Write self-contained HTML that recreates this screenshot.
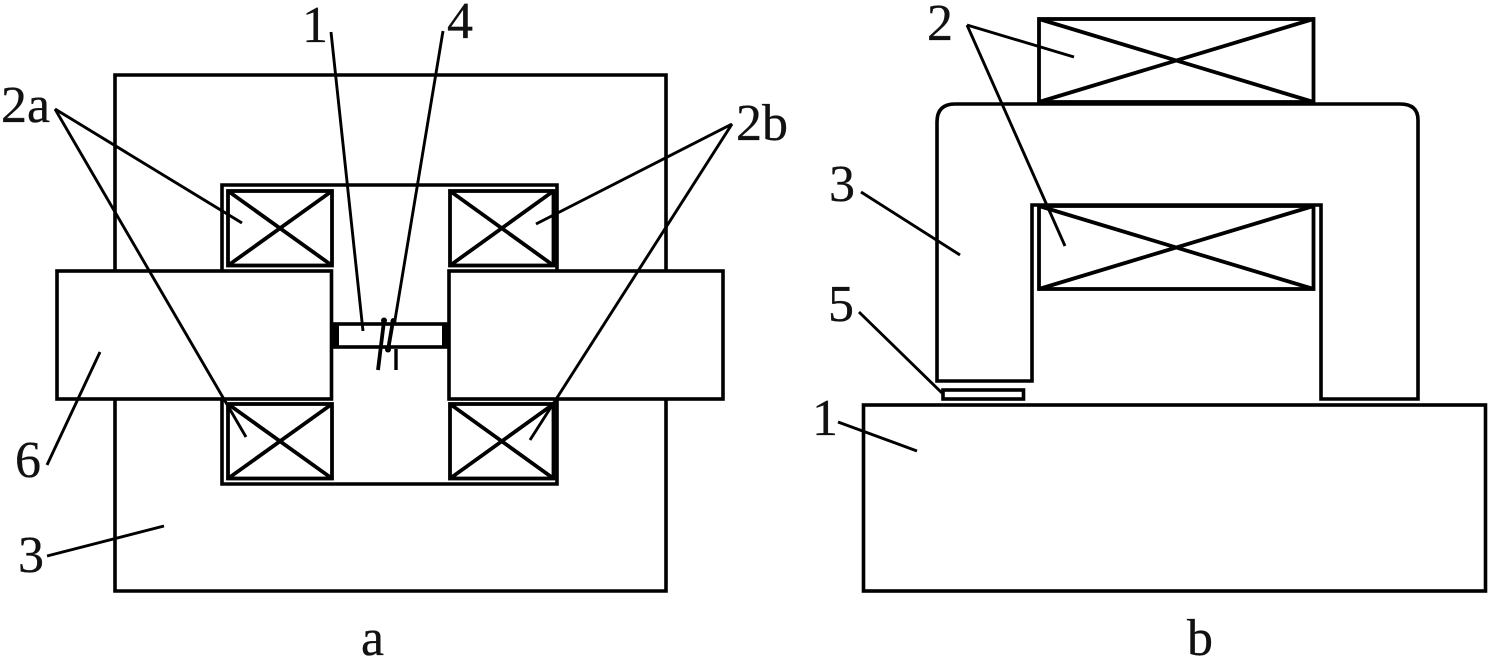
<!DOCTYPE html>
<html>
<head>
<meta charset="utf-8">
<style>
html,body{margin:0;padding:0;background:#fff;width:1488px;height:656px;overflow:hidden}
svg{display:block}
text{font-family:"Liberation Serif",serif;font-size:52px;fill:#111;stroke:#111;stroke-width:.3}
</style>
</head>
<body>
<svg width="1488" height="656" viewBox="0 0 1488 656" xmlns="http://www.w3.org/2000/svg">
<g fill="none" stroke="#000" stroke-width="3.600" stroke-linecap="butt">
  <!-- a: outer body -->
  <path d="M115 271V75H666V271M115 399V591H666V399"/>
  <!-- a: bars -->
  <rect x="57" y="271" width="274.500" height="128"/>
  <rect x="449" y="271" width="274" height="128"/>
  <!-- a: centre frame -->
  <path d="M222 271V185H557V271M222 399V484H557V399"/>
  <!-- a: coils -->
  <g stroke-width="3.800">
    <rect x="228" y="191" width="104" height="74.500"/>
    <path d="M228 191L332 265.500M332 191L228 265.500"/>
    <rect x="450" y="191" width="103.500" height="74.500"/>
    <path d="M450 191L553.500 265.500M553.500 191L450 265.500"/>
    <rect x="228" y="404" width="104" height="74.500"/>
    <path d="M228 404L332 478.500M332 404L228 478.500"/>
    <rect x="450" y="404" width="103.500" height="74.500"/>
    <path d="M450 404L553.500 478.500M553.500 404L450 478.500"/>
  </g>
  <!-- a: sensor -->
  <rect x="334" y="324" width="114" height="23"/>
  <path d="M336 323V348M445 323V348" stroke-width="6"/>
  <path d="M378 370L384 321M388 350L393 321" stroke-width="3.800"/>
  <path d="M396 349V370" stroke-width="3.400"/>
  <!-- a: leaders -->
  <g stroke-width="2.900">
    <path d="M331 32L363 331"/>
    <path d="M443 31L395 320"/>
    <path d="M55 109L242 223"/>
    <path d="M55 109L246 437"/>
    <path d="M732 124L536 224"/>
    <path d="M732 124L530 440"/>
    <path d="M100 352L47 465"/>
    <path d="M164 526L47 556"/>
  </g>
  <!-- b: coils -->
  <g stroke-width="3.800">
    <rect x="1039" y="19" width="274.500" height="83"/>
    <path d="M1039 19L1313.500 102M1313.500 19L1039 102"/>
    <rect x="1039" y="206" width="274.500" height="83"/>
    <path d="M1039 206L1313.500 289M1313.500 206L1039 289"/>
  </g>
  <!-- b: core -->
  <path d="M937 381V122Q937 104 955 104H1400Q1418 104 1418 120V399H1321V205H1032V381Z"/>
  <!-- b: small piece & base -->
  <rect x="943" y="390" width="80.500" height="9"/>
  <rect x="863.500" y="405" width="622" height="186"/>
  <!-- b: leaders -->
  <g stroke-width="2.900">
    <path d="M967 25L1074 57"/>
    <path d="M967 25L1065 246"/>
    <path d="M861 192L960 255"/>
    <path d="M859 312L942 393"/>
    <path d="M838 422L917 451"/>
  </g>
</g>
<g fill="#000">
  <circle cx="384" cy="320.500" r="3"/>
  <circle cx="388" cy="349.500" r="3"/>
  <circle cx="393.500" cy="321" r="3"/>
</g>
<text x="302" y="42">1</text>
<text x="447" y="38">4</text>
<text x="1" y="122">2a</text>
<text x="736" y="140">2b</text>
<text x="15" y="477">6</text>
<text x="18" y="572">3</text>
<text x="361" y="655">a</text>
<text x="927" y="40">2</text>
<text x="829" y="201">3</text>
<text x="828" y="321">5</text>
<text x="812" y="435">1</text>
<text x="1187" y="655">b</text>
</svg>
</body>
</html>
